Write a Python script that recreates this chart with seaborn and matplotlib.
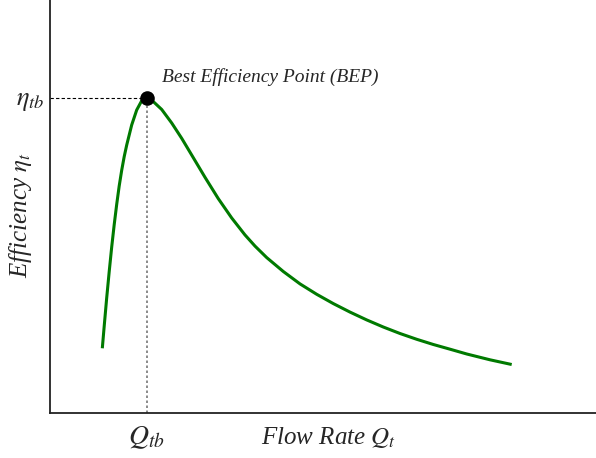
import matplotlib
matplotlib.use("Agg")
import matplotlib.pyplot as plt
import seaborn as sns
import pandas as pd

# Data (arbitrary units)
flow_rate = [9.58, 9.93, 10.38, 10.84, 11.30, 11.76, 12.22, 12.67, 13.13, 13.59,
             14.05, 14.96, 15.88, 16.79, 17.71, 18.92, 20.46, 22.29, 24.12, 25.95,
             28.39, 30.82, 33.28, 35.71, 37.55, 39.69, 42.73, 45.79, 48.85, 51.89,
             54.95, 58.00, 61.04, 64.10, 67.16, 70.20, 73.26, 76.32, 80.59, 84.56]
efficiency = [15.67, 21.07, 27.82, 34.19, 40.19, 45.62, 50.56, 54.94, 58.76, 62.08,
              64.89, 69.73, 73.37, 75.59, 76.34, 75.40, 73.49, 70.22, 66.51, 62.47,
              57.07, 51.91, 47.22, 43.12, 40.41, 37.63, 34.26, 31.26, 28.74, 26.49,
              24.43, 22.54, 20.82, 19.25, 17.85, 16.59, 15.45, 14.29, 12.88, 11.74]
bep_q = [17.71]
bep_eta = [76.34]
x_label_text = r"Flow Rate $Q_t$"
y_label_text = r"Efficiency $\eta_t$"
bep_text = "Best Efficiency Point (BEP)"
x_tick_label = r"$Q_{tb}$"
y_tick_label = r"$\eta_{tb}$"
x_minor_ticks = [17.58, 34.62, 51.65, 68.86, 85.9]
y_minor_ticks = [73.1, 48.7, 24.2]

sns.set_style("white")
plt.rcParams['font.family'] = ['Liberation Serif', 'DejaVu Serif']
plt.rcParams['font.style'] = 'italic'
plt.rcParams['mathtext.fontset'] = 'stix'

df = pd.DataFrame({"Q": flow_rate, "eta": efficiency})

fig = plt.figure(figsize=(5.96, 4.58), dpi=100)
ax = fig.add_axes([50 / 596, 45 / 458, 546 / 596, 413 / 458])

# Guide lines from the BEP
ax.plot([0, bep_q[0]], [bep_eta[0], bep_eta[0]], color="black", lw=0.8,
        ls=(0, (3, 2)), zorder=2)
ax.plot([bep_q[0], bep_q[0]], [0, bep_eta[0]], color="#777777", lw=1.2,
        ls=(0, (1.5, 1.5)), zorder=2)

sns.lineplot(data=df, x="Q", y="eta", sort=False, color="#007a00", lw=2.2,
             ax=ax, zorder=3, solid_joinstyle="round", solid_capstyle="butt")
sns.scatterplot(x=bep_q, y=bep_eta, color="black", s=110, ax=ax, zorder=4,
                edgecolor="black", linewidth=0)

ax.annotate(bep_text, xy=(bep_q[0], bep_eta[0]), xytext=(11, 15),
            textcoords="offset points", ha="left", va="center", fontsize=14,
            style="italic")

ax.set_xlim(0, 100)
ax.set_ylim(0, 100)

ax.set_xticks(bep_q)
ax.set_xticklabels([x_tick_label], fontsize=20)
ax.set_yticks(bep_eta)
ax.set_yticklabels([y_tick_label], fontsize=19)
ax.tick_params(axis="both", which="major", length=0)
ax.tick_params(axis="x", which="major", pad=8)
ax.tick_params(axis="y", which="major", pad=4)
ax.set_xticks(x_minor_ticks, minor=True)
ax.set_yticks(y_minor_ticks, minor=True)
ax.tick_params(axis="both", which="minor", direction="in", length=3,
               width=0.6, color="#bbbbbb")

ax.set_xlabel(x_label_text, fontsize=18, style="italic")
ax.set_ylabel(y_label_text, fontsize=18, style="italic")
ax.xaxis.set_label_coords(0.511, -0.03)
ax.yaxis.set_label_coords(-0.03, 0.479)

for side in ["top", "right"]:
    ax.spines[side].set_visible(False)
for side in ["left", "bottom"]:
    ax.spines[side].set_color("#222222")
    ax.spines[side].set_linewidth(1.3)

fig.savefig("out.png", dpi=100)
